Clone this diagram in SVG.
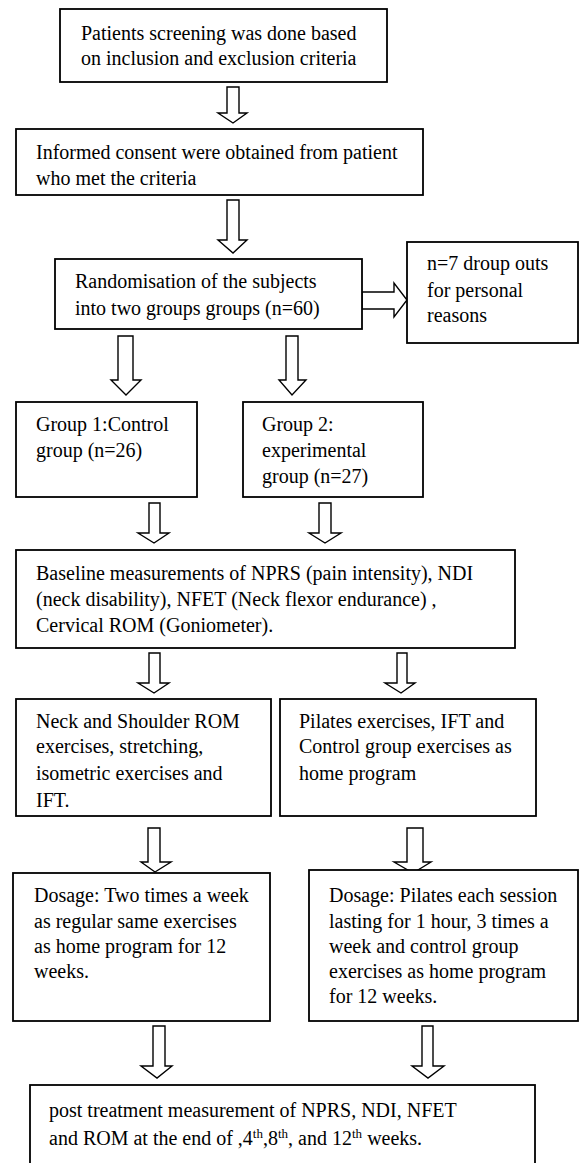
<svg xmlns="http://www.w3.org/2000/svg" width="580" height="1163" viewBox="0 0 580 1163">
<style>
.box{fill:#fff;stroke:#000;stroke-width:1.8}
.arr{fill:#fff;stroke:#000;stroke-width:1.4;stroke-linejoin:miter}
text{font-family:"Liberation Serif","Times New Roman",serif;font-size:20px;fill:#000}
.sup{font-size:13px}
</style>
<rect width="580" height="1163" fill="#fff"/>
<g id="connectors">
<polygon class="arr" points="227,87 239,87 239,113 247,113 233,123 218,113 227,113"/>
<polygon class="arr" points="227,200 239,200 239,240 247,240 233,253 218,240 227,240"/>
<polygon class="arr" points="362,292 394,292 394,283 407,300 394,317 394,309 362,309"/>
<polygon class="arr" points="118,336 133,336 133,380 141,380 126,395 111,380 118,380"/>
<polygon class="arr" points="286,336 298,336 298,380 306,380 292,395 279,380 286,380"/>
<polygon class="arr" points="149,503 160,503 160,533 169,533 154,543 138,533 149,533"/>
<polygon class="arr" points="319,503 331,503 331,533 341,533 325,543 309,533 319,533"/>
<polygon class="arr" points="149,653 160,653 160,683 169,683 154,693 138,683 149,683"/>
<polygon class="arr" points="397,653 407,653 407,683 415,683 401,693 385,683 397,683"/>
<polygon class="arr" points="148,828 160,828 160,862 171,862 155,872 141,862 148,862"/>
<polygon class="arr" points="407,828 423,828 423,862 431,862 413,873 394,862 407,862"/>
<polygon class="arr" points="153,1026 165,1026 165,1066 172,1066 157,1078 141,1066 153,1066"/>
<polygon class="arr" points="422,1026 433,1026 433,1066 444,1066 428,1078 412,1066 422,1066"/>
</g>
<g id="screening">
<rect class="box" x="60" y="9" width="327" height="73"/>
<text x="81" y="40">Patients screening was done based</text>
<text x="81" y="65">on inclusion and exclusion criteria</text>
</g>
<g id="consent">
<rect class="box" x="16" y="129" width="407" height="66"/>
<text x="36" y="159">Informed consent were obtained from patient</text>
<text x="36" y="185">who met the criteria</text>
</g>
<g id="randomisation">
<rect class="box" x="55" y="259" width="307" height="70"/>
<text x="75" y="288">Randomisation of the subjects</text>
<text x="75" y="315">into two groups groups (n=60)</text>
</g>
<g id="dropouts">
<rect class="box" x="407" y="242" width="171" height="101"/>
<text x="427" y="270">n=7 droup outs</text>
<text x="427" y="297">for personal</text>
<text x="427" y="322">reasons</text>
</g>
<g id="group1">
<rect class="box" x="16" y="402" width="181" height="95"/>
<text x="36" y="431">Group 1:Control</text>
<text x="36" y="457">group (n=26)</text>
</g>
<g id="group2">
<rect class="box" x="243" y="402" width="180" height="95"/>
<text x="262" y="431">Group 2:</text>
<text x="262" y="457">experimental</text>
<text x="262" y="483">group (n=27)</text>
</g>
<g id="baseline">
<rect class="box" x="16" y="550" width="499" height="98"/>
<text x="36" y="580">Baseline measurements of NPRS (pain intensity), NDI</text>
<text x="36" y="606">(neck disability), NFET (Neck flexor endurance) ,</text>
<text x="36" y="632">Cervical ROM (Goniometer).</text>
</g>
<g id="control-treatment">
<rect class="box" x="16" y="699" width="255" height="117"/>
<text x="36" y="728">Neck and Shoulder ROM</text>
<text x="36" y="753">exercises, stretching,</text>
<text x="36" y="780">isometric exercises and</text>
<text x="36" y="807">IFT.</text>
</g>
<g id="pilates-treatment">
<rect class="box" x="280" y="699" width="256" height="117"/>
<text x="299" y="728">Pilates exercises, IFT and</text>
<text x="299" y="753">Control group exercises as</text>
<text x="299" y="780">home program</text>
</g>
<g id="dosage-control">
<rect class="box" x="13" y="873" width="257" height="148"/>
<text x="34" y="902">Dosage: Two times a week</text>
<text x="34" y="928">as regular same exercises</text>
<text x="34" y="953">as home program for 12</text>
<text x="34" y="978">weeks.</text>
</g>
<g id="dosage-pilates">
<rect class="box" x="309" y="870" width="269" height="151"/>
<text x="329" y="902">Dosage: Pilates each session</text>
<text x="329" y="928">lasting for 1 hour, 3 times a</text>
<text x="329" y="953">week and control group</text>
<text x="329" y="978">exercises as home program</text>
<text x="329" y="1003">for 12 weeks.</text>
</g>
<g id="post-treatment">
<rect class="box" x="30" y="1085" width="505" height="90"/>
<text x="49" y="1117">post treatment measurement of NPRS, NDI, NFET</text>
<text x="49" y="1145">and ROM at the end of ,4<tspan class="sup" dy="-7">th</tspan><tspan dy="7">,8</tspan><tspan class="sup" dy="-7">th</tspan><tspan dy="7">, and 12</tspan><tspan class="sup" dy="-7">th</tspan><tspan dy="7"> weeks.</tspan></text>
</g>
</svg>
